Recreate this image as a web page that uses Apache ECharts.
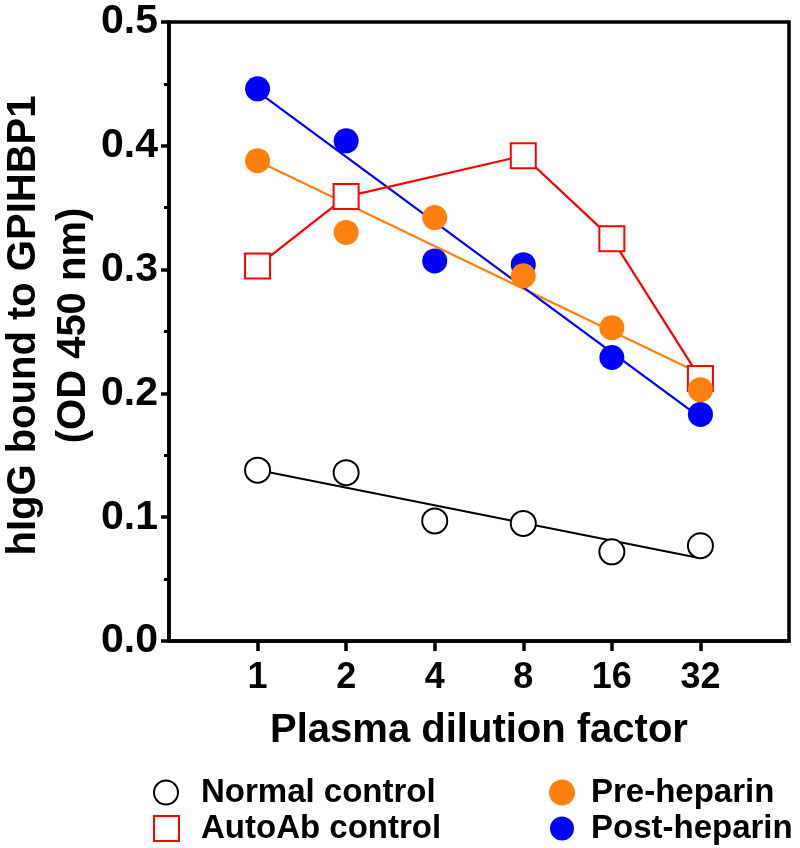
<!DOCTYPE html>
<html><head><meta charset="utf-8">
<script src="https://cdn.jsdelivr.net/npm/echarts@6/dist/echarts.min.js"></script>
<style>html,body{margin:0;padding:0;background:#fff}#c{width:800px;height:848px}</style>
</head><body><div id="c"></div>
<script>
// ---- data ----
const dilutions = [1, 2, 4, 8, 16, 32];
const xTickLabels = ['1', '2', '4', '8', '16', '32'];
const yTickValues = [0, 0.1, 0.2, 0.3, 0.4, 0.5];
const normalControl = [0.138, 0.136, 0.097, 0.095, 0.072, 0.077];
const autoAbControl = [0.303, 0.359, null, 0.392, 0.325, 0.212];
const preHeparin = [0.388, 0.330, 0.342, 0.295, 0.253, 0.203];
const postHeparin = [0.446, 0.404, 0.307, 0.304, 0.229, 0.183];

const FONT = "'Liberation Sans', Arial, Helvetica, sans-serif";
const ORANGE = '#FF800E', BLUE = '#0000FF', RED = '#FF0000';

function pairs(vals) { return dilutions.map((d, i) => [d, vals[i]]); }
// least-squares fit of value vs log2(dilution), drawn between first and last dilution
function fitLine(vals) {
  const xs = dilutions.map(d => Math.log2(d));
  const n = xs.length;
  const mx = xs.reduce((a, b) => a + b, 0) / n;
  const my = vals.reduce((a, b) => a + b, 0) / n;
  let sxy = 0, sxx = 0;
  xs.forEach((x, i) => { sxy += (x - mx) * (vals[i] - my); sxx += (x - mx) * (x - mx); });
  const b = sxy / sxx, a = my - b * mx;
  const d0 = dilutions[0], d1 = dilutions[n - 1];
  return [[d0, a + b * Math.log2(d0)], [d1, a + b * Math.log2(d1)]];
}

const chart = echarts.init(document.getElementById('c'), null, { renderer: 'canvas' });
const bold = { fontFamily: FONT, fontWeight: 'bold', color: '#000' };

function legendItem(name, left, top, size, pad, icon, itemStyle) {
  return {
    orient: 'vertical', left: left, top: top, padding: 0, itemWidth: size, itemHeight: size,
    textStyle: { fontSize: 33, lineHeight: size, ...bold, padding: [0, 0, 0, pad] },
    selectedMode: false,
    data: [{ name: name, icon: icon, itemStyle: itemStyle }]
  };
}

chart.setOption({
  animation: false,
  backgroundColor: '#fff',
  grid: { left: 169, right: 11, top: 22, bottom: 207, outerBoundsMode: 'none', containLabel: false,
          show: true, borderColor: '#000', borderWidth: 3.5 },
  xAxis: {
    type: 'log', logBase: 2, min: 0.5, max: 64,
    axisLine: { lineStyle: { color: '#000', width: 3.5 } },
    axisTick: { show: true, customValues: dilutions, length: 10, lineStyle: { color: '#000', width: 3.5 } },
    axisLabel: {
      customValues: dilutions, margin: 19, fontSize: 36, ...bold,
      formatter: v => { const i = dilutions.indexOf(Math.round(v)); return i >= 0 ? xTickLabels[i] : ''; }
    },
    splitLine: { show: false }, minorTick: { show: false }, minorSplitLine: { show: false },
    name: 'Plasma dilution factor', nameLocation: 'middle', nameGap: 70,
    nameTextStyle: { fontSize: 40, ...bold }
  },
  yAxis: {
    type: 'value', min: 0, max: 0.5, interval: 0.1,
    axisLine: { show: true, lineStyle: { color: '#000', width: 3.5 } },
    axisTick: { show: true, length: 8, lineStyle: { color: '#000', width: 3.5 } },
    minorTick: { show: true, splitNumber: 2, length: 5, lineStyle: { color: '#000', width: 3 } },
    axisLabel: { margin: 11, fontSize: 41, ...bold, formatter: v => v.toFixed(1) },
    splitLine: { show: false },
    name: 'hIgG bound to GPIHBP1\n(OD 450 nm)', nameLocation: 'middle', nameRotate: 90, nameGap: 70,
    nameMoveOverlap: false,
    nameTextStyle: { fontSize: 40, lineHeight: 50, ...bold, padding: [0, 0, 0, 12] }
  },
  legend: [
    legendItem('Normal control', 153, 776, 24, 18, 'circle', { color: '#fff', borderColor: '#000', borderWidth: 2 }),
    legendItem('AutoAb control', 153, 812, 25, 17, 'rect', { color: '#fff', borderColor: RED, borderWidth: 2 }),
    legendItem('Pre-heparin', 549, 776, 26, 11, 'circle', { color: ORANGE, borderWidth: 0 }),
    legendItem('Post-heparin', 550, 812, 24, 12, 'circle', { color: BLUE, borderWidth: 0 })
  ],
  series: [
    { name: 'Normal fit', type: 'line', data: fitLine(normalControl), showSymbol: false, symbol: 'none',
      lineStyle: { color: '#000', width: 2.2 }, z: 1, silent: true },
    { name: 'Pre fit', type: 'line', data: fitLine(preHeparin), showSymbol: false, symbol: 'none',
      lineStyle: { color: ORANGE, width: 2.2 }, z: 1, silent: true },
    { name: 'Post fit', type: 'line', data: fitLine(postHeparin), showSymbol: false, symbol: 'none',
      lineStyle: { color: BLUE, width: 2.2 }, z: 1, silent: true },
    { name: 'Normal control', type: 'scatter', data: pairs(normalControl), symbol: 'circle', symbolSize: 25,
      itemStyle: { color: '#fff', borderColor: '#000', borderWidth: 2, opacity: 1 }, z: 3 },
    { name: 'AutoAb control', type: 'line', data: pairs(autoAbControl), connectNulls: true,
      symbol: 'rect', symbolSize: 25, showSymbol: true,
      itemStyle: { color: '#fff', borderColor: RED, borderWidth: 2 },
      lineStyle: { color: RED, width: 2.2 }, z: 2 },
    { name: 'Post-heparin', type: 'scatter', data: pairs(postHeparin), symbol: 'circle', symbolSize: 25,
      itemStyle: { color: BLUE, opacity: 1 }, z: 3 },
    { name: 'Pre-heparin', type: 'scatter', data: pairs(preHeparin), symbol: 'circle', symbolSize: 25,
      itemStyle: { color: ORANGE, opacity: 1 }, z: 4 }
  ]
});
</script></body></html>
